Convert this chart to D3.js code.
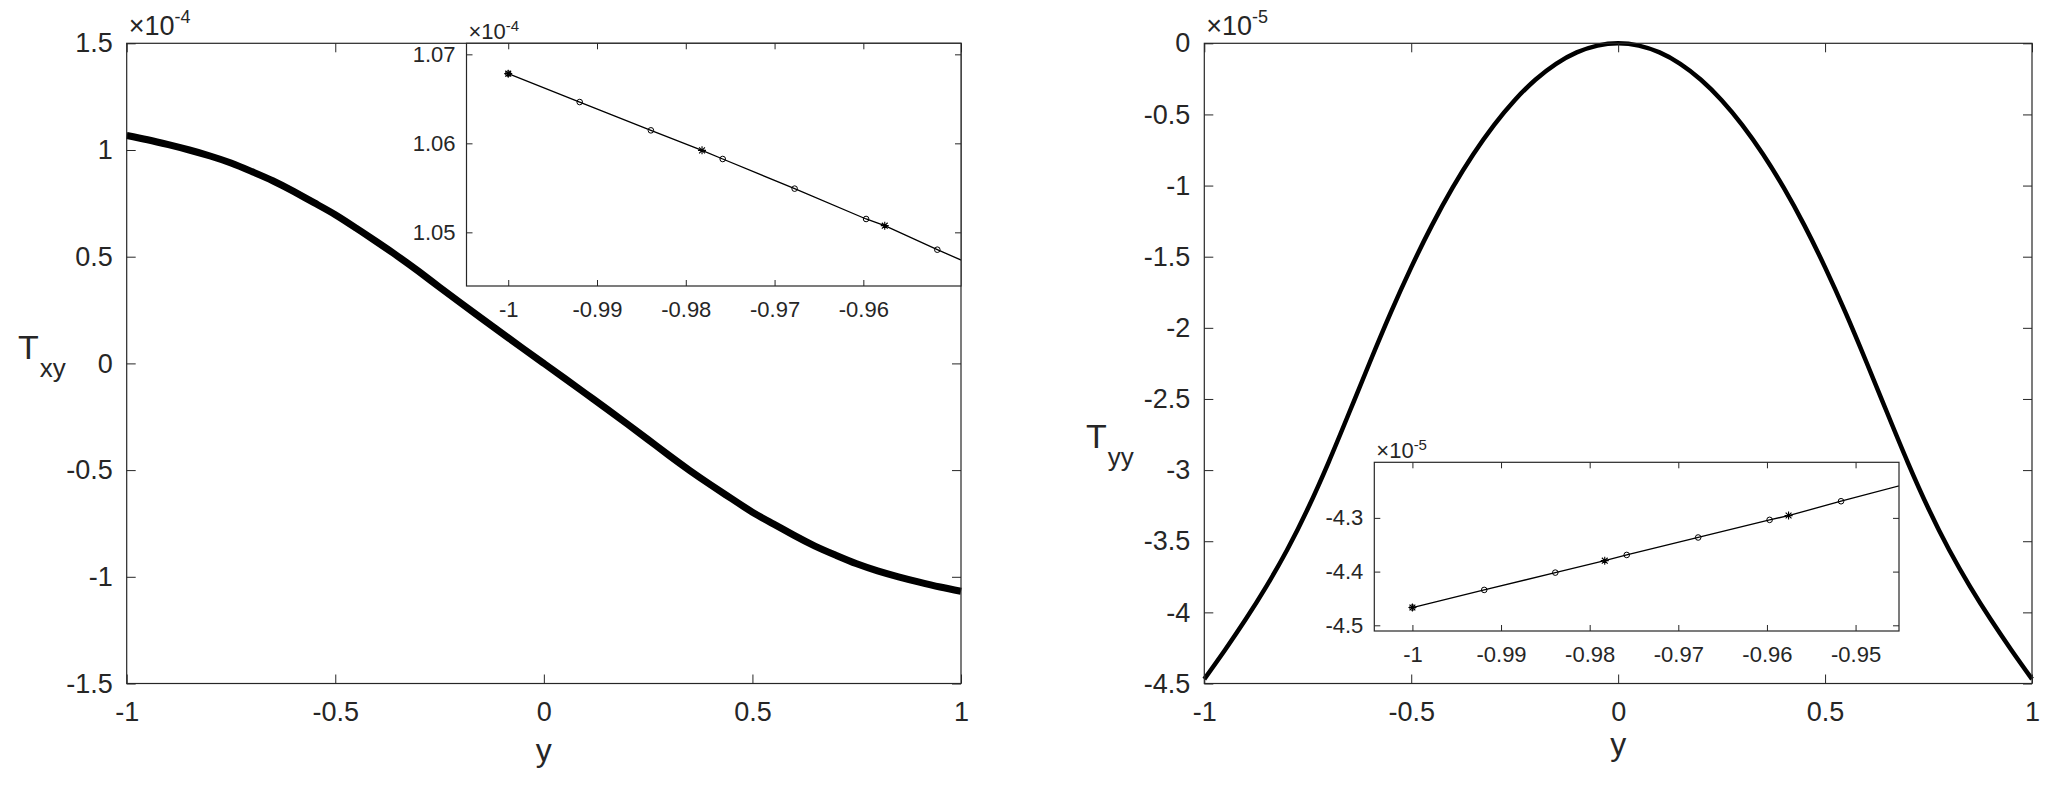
<!DOCTYPE html>
<html>
<head>
<meta charset="utf-8">
<script src="https://cdn.jsdelivr.net/npm/d3@7/dist/d3.min.js"></script>
<style>
  html, body { margin: 0; padding: 0; background: #ffffff; }
  svg { display: block; font-family: "Liberation Sans", Arial, Helvetica, sans-serif; }
</style>
</head>
<body>
<svg id="chart" width="2069" height="790"></svg>
<script>
// ---------------- data ----------------
// wall-normal coordinate y of the sampled main curves
const yGrid = [-1, -0.95, -0.9, -0.85, -0.8, -0.75, -0.7, -0.65, -0.6, -0.55, -0.5,
               -0.45, -0.4, -0.35, -0.3, -0.25, -0.2, -0.15, -0.1, -0.05, 0,
               0.05, 0.1, 0.15, 0.2, 0.25, 0.3, 0.35, 0.4, 0.45, 0.5,
               0.55, 0.6, 0.65, 0.7, 0.75, 0.8, 0.85, 0.9, 0.95, 1];
// T_xy in units of 1e-4
const txyValues = [1.068, 1.048, 1.025, 1.000, 0.972, 0.939, 0.899, 0.856, 0.806, 0.752, 0.697,
                   0.634, 0.569, 0.502, 0.431, 0.357, 0.284, 0.212, 0.141, 0.070, 0,
                   -0.070, -0.141, -0.212, -0.284, -0.357, -0.431, -0.502, -0.569, -0.634, -0.697,
                   -0.752, -0.806, -0.856, -0.899, -0.939, -0.972, -1.000, -1.025, -1.048, -1.068];
// T_yy in units of 1e-5
const tyyValues = [-4.469, -4.264, -4.049, -3.817, -3.562, -3.272, -2.947, -2.597, -2.242, -1.897, -1.575,
                   -1.280, -1.015, -0.780, -0.575, -0.400, -0.256, -0.144, -0.064, -0.016, 0,
                   -0.016, -0.064, -0.144, -0.256, -0.400, -0.575, -0.780, -1.015, -1.280, -1.575,
                   -1.897, -2.242, -2.597, -2.947, -3.272, -3.562, -3.817, -4.049, -4.264, -4.469];

// inset of T_xy near the wall (1e-4)
const insetXyCircleY = [-1, -0.99195, -0.98393, -0.97584, -0.96774, -0.95969, -0.95167, -0.9437];
const insetXyCircleV = [1.06783, 1.06464, 1.06146, 1.05824, 1.05491, 1.05150, 1.04805, 1.0446];
const insetXyStarY = [-1, -0.97817, -0.95759];
const insetXyStarV = [1.06783, 1.05921, 1.05075];

// inset of T_yy near the wall (1e-5)
const insetYyCircleY = [-1, -0.9919, -0.98388, -0.97582, -0.96776, -0.9597, -0.95164, -0.9436];
const insetYyCircleV = [-4.4669, -4.4341, -4.4019, -4.3690, -4.3365, -4.3037, -4.2690, -4.234];
const insetYyStarY = [-1, -0.9783, -0.95756];
const insetYyStarV = [-4.4669, -4.3796, -4.2957];

// tick labels
const mainXTicks = [-1, -0.5, 0, 0.5, 1];
const txyTicks = [-1.5, -1, -0.5, 0, 0.5, 1, 1.5];
const tyyTicks = [-4.5, -4, -3.5, -3, -2.5, -2, -1.5, -1, -0.5, 0];
const insetXyXTicks = [-1, -0.99, -0.98, -0.97, -0.96];
const insetXyYTicks = [1.05, 1.06, 1.07];
const insetYyXTicks = [-1, -0.99, -0.98, -0.97, -0.96, -0.95];
const insetYyYTicks = [-4.5, -4.4, -4.3];

// ---------------- drawing ----------------
const svg = d3.select("#chart");
const AX = "#262626";
const fmt = d => String(+d.toFixed(3));

function zip(a, b) { return a.map((v, i) => ({x: v, y: b[i]})); }

function drawFrame(g, x, y, xt, yt, o) {
  const [x0, x1] = x.range();
  const [y1, y0] = y.range();
  const mk = (axis, tr, labels, pad) => {
    const a = g.append("g").attr("transform", tr)
      .call(axis.tickSize(-o.tick).tickPadding(pad).tickFormat(labels ? fmt : ""));
    a.select(".domain").remove();
    a.selectAll("line").attr("stroke", AX).attr("stroke-width", 1);
    a.selectAll("text").attr("fill", AX).style("font-size", o.font + "px")
      .style("font-family", '"Liberation Sans", Arial, Helvetica, sans-serif');
    return a;
  };
  mk(d3.axisBottom(x).tickValues(xt), `translate(0,${y1})`, true, o.padX);
  mk(d3.axisTop(x).tickValues(xt), `translate(0,${y0})`, false, 0);
  mk(d3.axisLeft(y).tickValues(yt), `translate(${x0},0)`, true, o.padY);
  mk(d3.axisRight(y).tickValues(yt), `translate(${x1},0)`, false, 0);
  g.append("rect").attr("x", x0).attr("y", y0).attr("width", x1 - x0).attr("height", y1 - y0)
    .attr("fill", "none").attr("stroke", AX).attr("stroke-width", 1.2);
}

function multiplier(g, px, py, exp, size, supSize, rise) {
  const t = g.append("text").attr("x", px).attr("y", py).attr("fill", AX)
    .style("font-size", size + "px");
  t.append("tspan").text("\u00D710");
  t.append("tspan").attr("dy", -rise).style("font-size", supSize + "px").text(exp);
}

function mainPanel(o) {
  const g = svg.append("g");
  const x = d3.scaleLinear().domain([-1, 1]).range([o.x0, o.x1]);
  const y = d3.scaleLinear().domain(o.yDomain).range([o.y1, o.y0]);
  const line = d3.line().x(d => x(d.x)).y(d => y(d.y)).curve(d3.curveNatural);
  g.append("path").datum(zip(yGrid, o.values)).attr("d", line)
    .attr("fill", "none").attr("stroke", "#000").attr("stroke-width", o.lw)
    .attr("stroke-linejoin", "round");
  drawFrame(g, x, y, mainXTicks, o.yTicks, {tick: 9, font: 27, padX: 18, padY: 14});
  multiplier(g, o.x0 + 2, 35, o.exp, 27, 18, 12);
  // x label
  g.append("text").attr("x", (o.x0 + o.x1) / 2).attr("y", o.xlabY).attr("text-anchor", "middle")
    .attr("fill", AX).style("font-size", "32px").text("y");
  // y label T with subscript
  const t = g.append("text").attr("x", o.labX).attr("y", o.labY).attr("fill", AX)
    .style("font-size", "34px");
  t.append("tspan").text("T");
  t.append("tspan").attr("dx", 1).attr("dy", 18).style("font-size", "26px").text(o.sub);
  return g;
}

function insetPanel(o) {
  const g = svg.append("g");
  const x = d3.scaleLinear().domain(o.xDomain).range([o.x0, o.x1]);
  const y = d3.scaleLinear().domain(o.yDomain).range([o.y1, o.y0]);
  g.append("rect").attr("x", o.x0).attr("y", o.y0).attr("width", o.x1 - o.x0)
    .attr("height", o.y1 - o.y0).attr("fill", "#fff");
  const cid = "clip" + o.id;
  g.append("clipPath").attr("id", cid).append("rect")
    .attr("x", o.x0).attr("y", o.y0).attr("width", o.x1 - o.x0).attr("height", o.y1 - o.y0);
  const pg = g.append("g").attr("clip-path", `url(#${cid})`);
  const pts = zip(o.cy, o.cv).concat(zip(o.sy, o.sv)).sort((a, b) => a.x - b.x);
  const line = d3.line().x(d => x(d.x)).y(d => y(d.y));
  pg.append("path").datum(pts).attr("d", line).attr("fill", "none")
    .attr("stroke", "#000").attr("stroke-width", 1.3);
  pg.selectAll("circle.m").data(zip(o.cy, o.cv)).join("circle")
    .attr("cx", d => x(d.x)).attr("cy", d => y(d.y)).attr("r", 2.8)
    .attr("fill", "none").attr("stroke", "#000").attr("stroke-width", 1);
  const star = "M-4,0L4,0M0,-4L0,4M-2.9,-2.9L2.9,2.9M-2.9,2.9L2.9,-2.9";
  pg.selectAll("path.s").data(zip(o.sy, o.sv)).join("path")
    .attr("transform", d => `translate(${x(d.x)},${y(d.y)})`).attr("d", star)
    .attr("fill", "none").attr("stroke", "#000").attr("stroke-width", 1.1);
  drawFrame(g, x, y, o.xTicks, o.yTicks, {tick: 6, font: 22, padX: 15, padY: 11});
  multiplier(g, o.x0 + 2, o.y0 - 4, o.exp, 22, 15, 8);
}

mainPanel({x0: 126.7, x1: 961, y0: 43.3, y1: 683.5, yDomain: [-1.5, 1.5], values: txyValues,
           yTicks: txyTicks, lw: 7, exp: "-4", xlabY: 761, labX: 18, labY: 359, sub: "xy"});
mainPanel({x0: 1204.3, x1: 2032, y0: 43.3, y1: 683.5, yDomain: [-4.5, 0], values: tyyValues,
           yTicks: tyyTicks, lw: 4.5, exp: "-5", xlabY: 755, labX: 1086, labY: 448, sub: "yy"});

insetPanel({id: 1, x0: 466.5, x1: 961, y0: 43.3, y1: 286, xDomain: [-1.0047, -0.9490],
            yDomain: [1.04397, 1.07124], cy: insetXyCircleY, cv: insetXyCircleV,
            sy: insetXyStarY, sv: insetXyStarV, xTicks: insetXyXTicks, yTicks: insetXyYTicks, exp: "-4"});
insetPanel({id: 2, x0: 1374.3, x1: 1899, y0: 462.3, y1: 631, xDomain: [-1.0043, -0.9451],
            yDomain: [-4.5106, -4.1965], cy: insetYyCircleY, cv: insetYyCircleV,
            sy: insetYyStarY, sv: insetYyStarV, xTicks: insetYyXTicks, yTicks: insetYyYTicks, exp: "-5"});
</script>
</body>
</html>
